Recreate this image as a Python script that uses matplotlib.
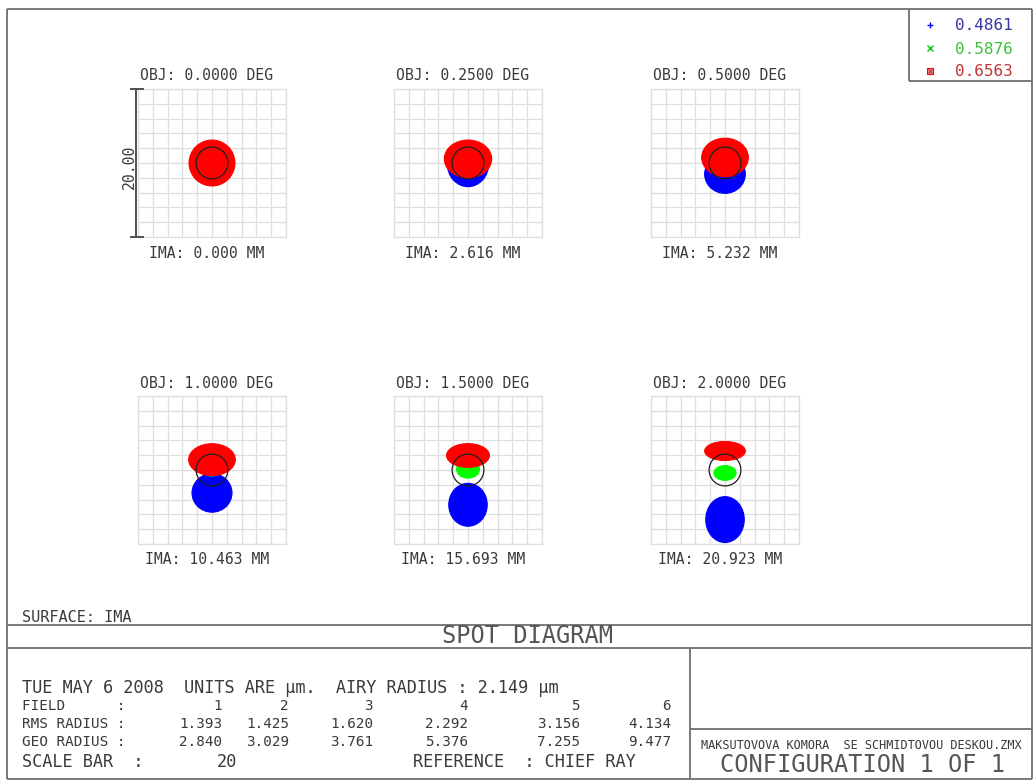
import matplotlib
matplotlib.use("Agg")
import matplotlib.pyplot as plt
from matplotlib.patches import Ellipse, Circle

# ---- analysis results -------------------------------------------------
field_deg = [0.0, 0.25, 0.5, 1.0, 1.5, 2.0]
image_height_mm = [0.000, 2.616, 5.232, 10.463, 15.693, 20.923]
rms_radius_um = [1.393, 1.425, 1.620, 2.292, 3.156, 4.134]
geo_radius_um = [2.840, 3.029, 3.761, 5.376, 7.255, 9.477]
wavelengths_um = [0.4861, 0.5876, 0.6563]
airy_radius_um = 2.149
scale_bar_um = 20

# spot footprint per field: vertical centroid offset and semi-axes (um)
blue_dy = [0.0, -0.1, -1.5, -3.1, -4.7, -6.7]
blue_rx = [2.6, 2.8, 2.75, 2.7, 2.6, 2.6]
blue_ry = [2.6, 3.1, 2.6, 2.6, 2.9, 3.1]

green_dy = [0.0, 0.0, 0.3, 0.2, 0.1, -0.4]
green_rx = [2.4, 2.0, 1.6, 1.4, 1.55, 1.5]
green_ry = [2.4, 2.0, 1.6, 1.0, 1.2, 1.0]

red_dy = [0.0, 0.55, 0.75, 1.4, 1.96, 2.57]
red_rx = [3.1, 3.2, 3.15, 3.15, 2.9, 2.75]
red_ry = [3.1, 2.55, 2.6, 2.15, 1.6, 1.28]

# ---- page layout ------------------------------------------------------
W, H = 1033, 781
MONO = "DejaVu Sans Mono"
INK = "#3a3a3a"
SOFT = "#555555"
FRAME = "#6e6e6e"
GRIDC = "#dedede"

fig = plt.figure(figsize=(W / 100, H / 100), dpi=100)
fig.patch.set_facecolor("white")

page = fig.add_axes([0, 0, 1, 1])
page.set_xlim(0, W)
page.set_ylim(H, 0)
page.axis("off")


def hline(y, x0, x1):
    page.plot([x0, x1], [y, y], color=FRAME, lw=1.3, solid_capstyle="butt")


def vline(x, y0, y1):
    page.plot([x, x], [y0, y1], color=FRAME, lw=1.3, solid_capstyle="butt")


def txt(x, y, s, size, ha="left", color=INK, **kw):
    page.text(x, y, s, fontsize=size, family=MONO, ha=ha, va="baseline",
              color=color, **kw)


# outer frame and title block
hline(9, 7, 1032)
hline(779, 7, 1032)
vline(7, 9, 779)
vline(1032, 9, 779)
hline(625, 7, 1032)
hline(648, 7, 1032)
vline(690, 648, 779)
hline(729, 690, 1032)

# wavelength legend box
vline(909, 9, 81)
hline(81, 909, 1032)
legend_colors = ["#0000ff", "#00c800", "#ff0000"]
legend_text_colors = ["#3535a0", "#40c040", "#c03535"]
legend_y = [25, 48, 71]
for wl, tc, y in zip(wavelengths_um, legend_text_colors, legend_y):
    txt(955, y + 5.5, f"{wl:.4f}", 11.5, color=tc)
page.plot([930], [legend_y[0]], marker="+", ms=5, mew=1, color=legend_colors[0])
page.plot([930], [legend_y[1]], marker="x", ms=4, mew=1, color=legend_colors[1])
page.plot([930], [legend_y[2]], marker="s", ms=5, mew=0.8, mfc="#f09090",
          mec=legend_colors[2])
page.plot([930], [legend_y[2]], marker="x", ms=3, mew=0.8, color="#b04040")

# ---- spot panels ------------------------------------------------------
BOX = 148
centers = [(212, 163), (468, 163), (725, 163),
           (212, 470), (468, 470), (725, 470)]
half = scale_bar_um / 2

for i, (cx, cy) in enumerate(centers):
    ax = fig.add_axes([(cx - BOX / 2) / W, 1 - (cy + BOX / 2) / H,
                       BOX / W, BOX / H])
    ax.set_xlim(-half, half)
    ax.set_ylim(-half, half)
    ticks = list(range(-int(half), int(half) + 1, 2))
    ax.set_xticks(ticks)
    ax.set_yticks(ticks)
    ax.tick_params(length=0, labelleft=False, labelbottom=False)
    ax.grid(True, color=GRIDC, lw=0.9)
    ax.set_axisbelow(True)
    for sp in ax.spines.values():
        sp.set_color(GRIDC)
        sp.set_linewidth(0.9)

    spots = [
        ("#0000ff", blue_dy[i], blue_rx[i], blue_ry[i]),
        ("#00ff00", green_dy[i], green_rx[i], green_ry[i]),
        ("#ff0000", red_dy[i], red_rx[i], red_ry[i]),
    ]
    for z, (c, dy, rx, ry) in enumerate(spots):
        ax.add_patch(Ellipse((0, dy), 2 * rx, 2 * ry, facecolor=c,
                             edgecolor=c, lw=0.8, zorder=3 + z))
    ax.add_patch(Circle((0, 0), airy_radius_um, fill=False,
                        edgecolor="#202020", lw=0.9, zorder=10))

    # field labels
    top = cy - BOX / 2
    bot = cy + BOX / 2
    txt(cx - 5, top - 8.5, f"OBJ: {field_deg[i]:.4f} DEG", 10.6, ha="center")
    txt(cx - 5, bot + 20.5, f"IMA: {image_height_mm[i]:.3f} MM", 10.6, ha="center")

    if i == 0:
        # scale bar on the first panel
        ax.plot([-10.25, -10.25], [-half, half], color="#505050", lw=1.4,
                clip_on=False, zorder=11)
        for yy in (-half, half):
            ax.plot([-10.95, -9.3], [yy, yy], color="#505050", lw=1.4,
                    clip_on=False, zorder=11)
        page.text(cx - BOX / 2 - 9, cy + 4, f"{scale_bar_um:.2f}", fontsize=10.6,
                  family=MONO, rotation=90, ha="center", va="center", color=INK)

# ---- text block -------------------------------------------------------
txt(22, 622, "SURFACE: IMA", 11)
txt(527, 643, "SPOT DIAGRAM", 17, ha="center", color=SOFT)
txt(22, 693, "TUE MAY 6 2008  UNITS ARE \u03bcm.  AIRY RADIUS : "
    f"{airy_radius_um:.3f} \u03bcm", 12.2)

col_right = [222, 289, 373, 468, 580, 671]
row_size = 10.3
txt(22, 710, "FIELD      :", row_size)
txt(22, 728, "RMS RADIUS :", row_size)
txt(22, 746, "GEO RADIUS :", row_size)
for k, xr in enumerate(col_right):
    txt(xr, 710, f"{k + 1}", row_size, ha="right")
    txt(xr, 728, f"{rms_radius_um[k]:.3f}", row_size, ha="right")
    txt(xr, 746, f"{geo_radius_um[k]:.3f}", row_size, ha="right")

txt(22, 767, "SCALE BAR  :", 12.2)
txt(237, 767, f"{scale_bar_um}", 12.2, ha="right")
txt(413, 767, "REFERENCE  : CHIEF RAY", 12.2)

txt(861, 749, "MAKSUTOVOVA KOMORA  SE SCHMIDTOVOU DESKOU.ZMX", 8.6, ha="center")
txt(862, 772, "CONFIGURATION 1 OF 1", 17, ha="center", color=SOFT)

fig.savefig("out.png", dpi=100, facecolor="white")
